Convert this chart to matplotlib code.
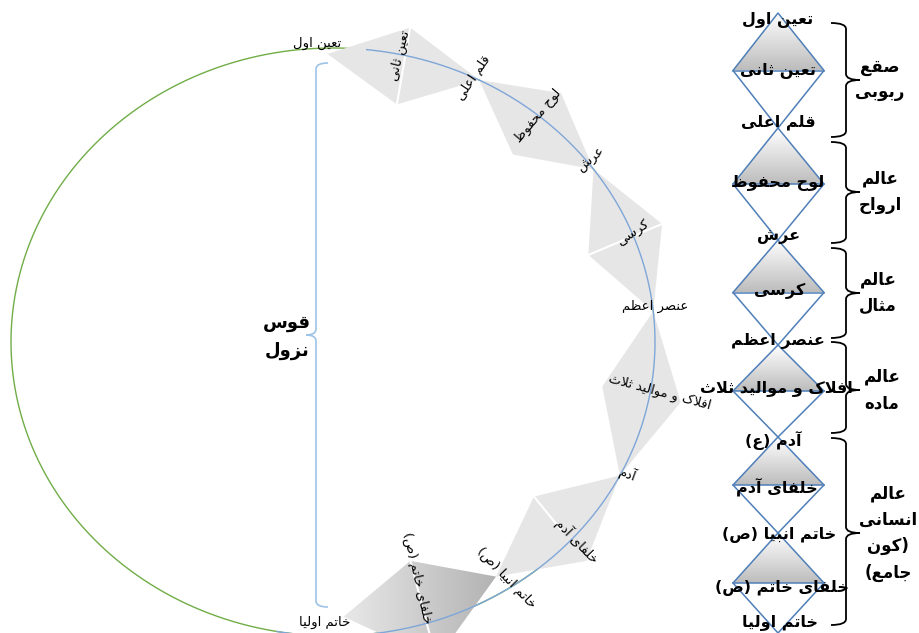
import numpy as np
import matplotlib
matplotlib.use('Agg')
import matplotlib.pyplot as plt
from matplotlib.path import Path
from matplotlib.patches import PathPatch, Polygon

plt.rcParams['font.family'] = ['DejaVu Sans']

# stages of the descent (right column), top to bottom
stages = ['تعین اول', 'تعین ثانی', 'قلم اعلی', 'لوح محفوظ', 'عرش', 'کرسی',
          'عنصر اعظم', 'افلاک و موالید ثلاث', 'آدم (ع)', 'خلفای آدم',
          'خاتم انبیا (ص)', 'خلفای خاتم (ص)', 'خاتم اولیا']
# realms grouping the stages
realms = ['صقع\nربوبی', 'عالم\nارواح', 'عالم\nمثال', 'عالم\nماده',
          'عالم\nانسانی\n(کون\nجامع)']
# labels on the arc: nodes on the curve and the stages between them
arc_nodes = ['تعین اول', 'قلم اعلی', 'عرش', 'عنصر اعظم', 'آدم',
             'خاتم انبیا (ص)', 'خاتم اولیا']
arc_between = ['تعین ثانی', 'لوح محفوظ', 'کرسی', 'افلاک و موالید ثلاث',
               'خلفای آدم', 'خلفای خاتم (ص)']
arc_title = 'قوس\nنزول'

# --- simple persian shaping (matplotlib has no bidi / joining) ---
FORMS = {
    'ا': 'ﺍﺎ', 'آ': 'ﺁﺂ', 'د': 'ﺩﺪ', 'ذ': 'ﺫﺬ', 'ر': 'ﺭﺮ', 'ز': 'ﺯﺰ', 'و': 'ﻭﻮ',
    'ب': 'ﺏﺐﺑﺒ', 'ت': 'ﺕﺖﺗﺘ', 'ث': 'ﺙﺚﺛﺜ', 'ج': 'ﺝﺞﺟﺠ', 'ح': 'ﺡﺢﺣﺤ',
    'خ': 'ﺥﺦﺧﺨ', 'س': 'ﺱﺲﺳﺴ', 'ش': 'ﺵﺶﺷﺸ', 'ص': 'ﺹﺺﺻﺼ', 'ظ': 'ﻅﻆﻇﻈ',
    'ع': 'ﻉﻊﻋﻌ', 'ف': 'ﻑﻒﻓﻔ', 'ق': 'ﻕﻖﻗﻘ', 'ک': '\uFB8E\uFB8F\uFB90\uFB91',
    'ل': 'ﻝﻞﻟﻠ', 'م': 'ﻡﻢﻣﻤ', 'ن': 'ﻥﻦﻧﻨ', 'ه': 'ﻩﻪﻫﻬ',
    'ی': '\uFBFC\uFBFD\uFBFE\uFBFF',
}


def shape_line(text):
    text = text.replace('ي', 'ی').replace('ك', 'ک')
    out = []
    prev = False
    i = 0
    while i < len(text):
        c = text[i]
        nxt = text[i + 1] if i + 1 < len(text) else ''
        if c == 'ل' and nxt == 'ا':
            out.append('\uFEFC' if prev else '\uFEFB')
            prev = False
            i += 2
            continue
        if c in FORMS:
            f = FORMS[c]
            join = len(f) == 4 and nxt in FORMS
            if prev and join:
                g = f[3]
            elif prev:
                g = f[1]
            elif join:
                g = f[2]
            else:
                g = f[0]
            out.append(g)
            prev = join
        else:
            out.append(c)
            prev = False
        i += 1
    vis = ''.join(reversed(out))
    return vis.translate(str.maketrans('()', ')('))


def fa(text):
    return '\n'.join(shape_line(s) for s in text.split('\n'))


def brace(ax, y0, y1, ym, x_end, x_spine, x_tip, r, **kw):
    verts = [(x_end, y0), (x_spine, y0), (x_spine, y0 + r),
             (x_spine, ym - r), (x_spine, ym), (x_tip, ym),
             (x_spine, ym), (x_spine, ym + r),
             (x_spine, y1 - r), (x_spine, y1), (x_end, y1)]
    codes = [Path.MOVETO, Path.CURVE3, Path.CURVE3, Path.LINETO,
             Path.CURVE3, Path.CURVE3, Path.CURVE3, Path.CURVE3,
             Path.LINETO, Path.CURVE3, Path.CURVE3]
    ax.add_patch(PathPatch(Path(verts, codes), fill=False, **kw))


fig = plt.figure(figsize=(9.2, 6.33), dpi=100)
ax = fig.add_axes([0, 0, 1, 1])

# ---------------- the arc (left part) ----------------
cx, cy, a, b = 333, 342, 322, 294
t = np.radians(np.linspace(0, 360, 721))
ax.plot(cx + a * np.cos(t), cy - b * np.sin(t), color='#70ad47', lw=1, zorder=1)
t = np.radians(np.linspace(84, -100, 400))
ax.plot(cx + a * np.cos(t), cy - b * np.sin(t), color='#7ea6d8', lw=1, zorder=4)

node_deg = np.radians([91, 63, 36, 6, -27, -57.6, -88])
node_r = [0.98, 1, 1, 1, 1.0, 0.945, 0.935]
px = cx + a * np.array(node_r) * np.cos(node_deg)
py = cy - b * np.array(node_r) * np.sin(node_deg)
w_out = [40, 40, 42, 45, 45, 65]
w_in = [38, 38, 38, 35, 38, 37]
diag = [1, 0, 1, 0, 0.55, 1]
for i in range(6):
    p0 = np.array([px[i], py[i]])
    p1 = np.array([px[i + 1], py[i + 1]])
    d = (p1 - p0) / np.hypot(*(p1 - p0))
    n = np.array([d[1], -d[0]])
    mid = (p0 + p1) / 2
    vo = mid + n * w_out[i]
    vi = mid - n * w_in[i]
    kite = Polygon([p0, vo, p1, vi], closed=True, facecolor='#e7e6e6',
                   edgecolor='none', zorder=2)
    ax.add_patch(kite)
    if i == 5:
        kite.set_facecolor('none')
        xs = [p0[0], p1[0], vo[0], vi[0]]
        ys = [p0[1], p1[1], vo[1], vi[1]]
        g = np.linspace(0.91, 0.70, 128)[None, :] * np.ones((8, 1))
        im = ax.imshow(np.dstack([g, g, g]), extent=(min(xs), max(xs), max(ys), min(ys)),
                       origin='upper', aspect='auto', zorder=2)
        im.set_clip_path(kite)
    if diag[i]:
        end = vi + (vo - vi) * diag[i]
        ax.plot([vi[0], end[0]], [vi[1], end[1]], color='white', lw=1.5, zorder=3)

node_xy = [(317, 43), (473, 77), (591, 160), (655, 306), (627, 474), (506, 578), (325, 622)]
node_rot = [0, 56, 40, 0, -20, -46, 0]
for s, (x, y), r in zip(arc_nodes, node_xy, node_rot):
    ax.text(x, y, fa(s), fontsize=9.5, rotation=r, ha='center', va='center',
            rotation_mode='anchor', zorder=6)
mid_xy = [(400, 56), (538, 116), (633, 234), (660, 392), (577, 541), (417, 578)]
mid_rot = [76, 50, 34, -15, -46, -77]
for s, (x, y), r in zip(arc_between, mid_xy, mid_rot):
    ax.text(x, y, fa(s), fontsize=9.5, rotation=r, ha='center', va='center',
            rotation_mode='anchor', zorder=6)

brace(ax, 63, 607, 335, 328, 316, 306, 6, color='#9dc3e6', lw=1.2, zorder=3)
ax.text(287, 337, fa(arc_title), fontsize=13, fontweight='bold', ha='center',
        va='center', linespacing=1.65)

# ---------------- right column ----------------
xc, xl, xr = 778, 733, 824
vy = [13, 128, 240, 345, 437, 533, 633]
for i in range(6):
    top, bot = vy[i], vy[i + 1]
    mid = (top + bot) / 2
    tri = Polygon([(xc, top), (xr, mid), (xl, mid)], closed=True,
                  facecolor='none', edgecolor='none')
    ax.add_patch(tri)
    g = np.linspace(1.0, 0.74, 64)[:, None] * np.ones((1, 4))
    im = ax.imshow(np.dstack([g, g, g]), extent=(xl, xr, mid, top),
                   origin='upper', aspect='auto', zorder=2)
    im.set_clip_path(tri)
    ax.add_patch(Polygon([(xc, top), (xr, mid), (xc, bot), (xl, mid)],
                         closed=True, fill=False, edgecolor='#4f7fb8', lw=1.1, zorder=3))
    ax.plot([xl, xr], [mid, mid], color='#4f7fb8', lw=1.1, zorder=3)

stage_y = [20, 71, 122, 183, 237, 291, 341, 388, 440, 487, 535, 588, 622]
stage_x = [778, 778, 778, 778, 779, 780, 778, 776, 773, 777, 779, 782, 780]
for s, x, y in zip(stages, stage_x, stage_y):
    ax.text(x, y, fa(s), fontsize=11.5, fontweight='bold', ha='center',
            va='center', zorder=6)

brace_y = [(23, 137, 80), (142, 243, 192), (248, 338, 293), (342, 433, 390), (438, 625, 533)]
realm_x = [880, 880, 878, 882, 888]
for (y0, y1, ym), s, x in zip(brace_y, realms, realm_x):
    brace(ax, y0, y1, ym, 831, 846, 860, 6, color='black', lw=1.3, zorder=3)
    ax.text(x, ym, fa(s), fontsize=12, fontweight='bold', ha='center',
            va='center', linespacing=1.6)

ax.set_xlim(0, 920)
ax.set_ylim(633, 0)
ax.axis('off')
fig.savefig('out.png', dpi=100)
